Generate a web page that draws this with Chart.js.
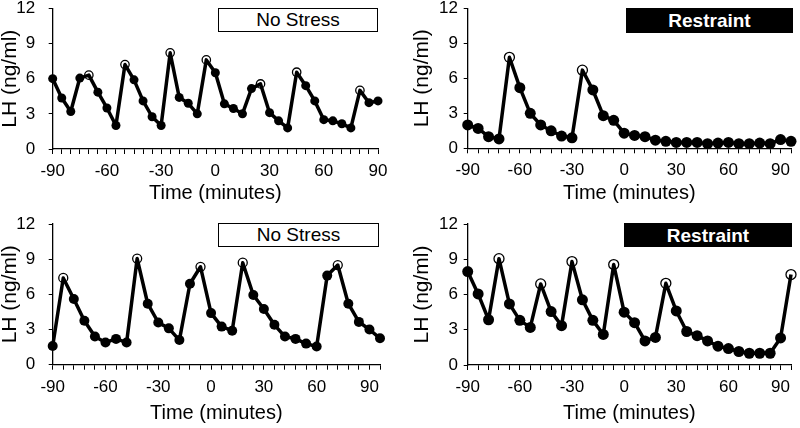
<!DOCTYPE html>
<html>
<head>
<meta charset="utf-8">
<script src="https://cdn.jsdelivr.net/npm/chart.js@4/dist/chart.umd.min.js"></script>
<style>
  html, body { margin: 0; padding: 0; background: #fff; }
  #wrap { position: relative; width: 800px; height: 428px; font-family: "Liberation Sans", Arial, sans-serif; }
  .panel { position: absolute; width: 400px; height: 214px; }
  .tag { position: absolute; box-sizing: border-box; text-align: center; font-size: 19px; line-height: 21px; }
  .tag.open { border: 1.5px solid #000; background: #fff; color: #000; }
  .tag.dark { background: #000; color: #fff; font-weight: bold; line-height: 25px; }
</style>
</head>
<body>
<div id="wrap">
  <div class="panel" style="left:0;top:0"><canvas id="c1" width="400" height="214"></canvas></div>
  <div class="panel" style="left:400px;top:0"><canvas id="c2" width="400" height="214"></canvas></div>
  <div class="panel" style="left:0;top:214px"><canvas id="c3" width="400" height="214"></canvas></div>
  <div class="panel" style="left:400px;top:214px"><canvas id="c4" width="400" height="214"></canvas></div>
  <div class="tag open" style="left:218px;top:8px;width:160px;height:24px">No Stress</div>
  <div class="tag dark" style="left:626px;top:8px;width:167px;height:25px">Restraint</div>
  <div class="tag open" style="left:218px;top:223px;width:161px;height:24px">No Stress</div>
  <div class="tag dark" style="left:624px;top:223px;width:168px;height:24px">Restraint</div>
</div>
<script>
// Temps (minutes) et LH (ng/ml) pour chaque panneau
const timeEvery5 = [-90, -85, -80, -75, -70, -65, -60, -55, -50, -45, -40, -35, -30, -25, -20, -15, -10, -5,
    0, 5, 10, 15, 20, 25, 30, 35, 40, 45, 50, 55, 60, 65, 70, 75, 80, 85, 90];
const timeEvery6 = [-90, -84, -78, -72, -66, -60, -54, -48, -42, -36, -30, -24, -18, -12, -6,
    0, 6, 12, 18, 24, 30, 36, 42, 48, 54, 60, 66, 72, 78, 84, 90, 96];

const lhNoStressTop = [6.0, 4.35, 3.2, 6.05, 6.3, 4.85, 3.5, 2.0, 7.2, 5.9, 4.1, 2.75, 2.0, 8.2, 4.4, 3.9, 3.0, 7.6,
    6.5, 3.85, 3.45, 3.0, 5.15, 5.55, 3.1, 2.4, 1.8, 6.55, 5.4, 4.1, 2.5, 2.4, 2.15, 1.8, 5.0, 3.95, 4.1];
const lhRestraintTop = [2.0, 1.7, 1.0, 0.8, 7.8, 5.2, 3.0, 2.0, 1.5, 1.05, 0.9, 6.7, 5.0, 2.8, 2.4,
    1.3, 1.1, 1.0, 0.7, 0.6, 0.5, 0.5, 0.5, 0.4, 0.45, 0.5, 0.4, 0.4, 0.45, 0.4, 0.75, 0.6];
const lhNoStressBottom = [1.6, 7.4, 5.6, 3.75, 2.4, 1.9, 2.2, 1.9, 9.05, 5.2, 3.6, 3.1, 2.1, 6.9, 8.35,
    4.4, 3.25, 2.9, 8.7, 5.95, 4.75, 3.4, 2.4, 2.2, 1.8, 1.55, 7.6, 8.5, 5.2, 3.65, 3.0, 2.25];
const lhRestraintBottom = [7.95, 6.05, 3.85, 9.05, 5.2, 3.8, 3.2, 6.9, 4.55, 3.35, 8.8, 5.55, 3.8, 2.6, 8.55,
    4.5, 3.6, 2.05, 2.35, 6.95, 4.6, 2.85, 2.5, 2.05, 1.6, 1.4, 1.15, 1.0, 1.0, 1.0, 2.3, 7.7];

// Pics (cercles ouverts)
const peaksNoStressTop = [-70, -50, -25, -5, 25, 45, 80];
const peaksRestraintTop = [-66, -24];
const peaksNoStressBottom = [-84, -42, -6, 18, 72];
const peaksRestraintBottom = [-72, -48, -30, -6, 24, 96];

const yTicks = [0, 3, 6, 9, 12];
const xLabels = [-90, -60, -30, 0, 30, 60, 90];

const FONT = '"Liberation Sans", Arial, sans-serif';

function makePanel(id, times, values, peaks, cfg) {
    const pts = times.map((t, i) => ({ x: t, y: values[i] }));
    const isPeak = (ctx) => peaks.includes(times[ctx.dataIndex]);

    new Chart(document.getElementById(id), {
        type: 'line',
        data: {
            datasets: [
                {
                    // ligne au-dessus des points
                    data: pts,
                    borderColor: '#000',
                    borderWidth: 3.5,
                    borderJoinStyle: 'round',
                    tension: 0,
                    pointRadius: 0,
                    clip: false,
                    order: 1
                },
                {
                    data: pts,
                    showLine: false,
                    pointRadius: (ctx) => isPeak(ctx) ? cfg.peakRadius : cfg.radius,
                    pointBackgroundColor: (ctx) => isPeak(ctx) ? '#fff' : '#000',
                    pointBorderColor: '#000',
                    pointBorderWidth: (ctx) => isPeak(ctx) ? 1.3 : 0,
                    clip: false,
                    order: 2
                }
            ]
        },
        options: {
            responsive: false,
            animation: false,
            layout: {
                padding: { left: cfg.padLeft, top: cfg.top, right: 400 - cfg.right, bottom: cfg.padBottom }
            },
            plugins: { legend: { display: false }, tooltip: { enabled: false } },
            scales: {
                x: {
                    type: 'linear',
                    min: -90,
                    max: cfg.xMax,
                    afterFit: (s) => { s.height = cfg.xHeight; },
                    ticks: {
                        stepSize: cfg.step,
                        autoSkip: false,
                        maxRotation: 0,
                        padding: 9,
                        color: '#000',
                        font: { family: FONT, size: 17, lineHeight: 1 },
                        callback: (v) => xLabels.includes(v) ? String(v) : ''
                    },
                    grid: { drawOnChartArea: false, drawTicks: true, tickLength: 5, color: '#000', tickWidth: 1 },
                    border: { display: true, color: '#000', width: 1.3 },
                    title: {
                        display: true,
                        text: 'Time (minutes)',
                        color: '#000',
                        padding: 0,
                        font: { family: FONT, size: 20, lineHeight: 1 }
                    }
                },
                y: {
                    min: 0,
                    max: 12,
                    afterFit: (s) => {
                        s.width = cfg.yWidth;
                        // pas de marge supplémentaire en haut/bas pour les labels
                        s.paddingTop = 0;
                        s.paddingBottom = 0;
                    },
                    afterBuildTicks: (s) => { s.ticks = yTicks.map(v => ({ value: v })); },
                    ticks: {
                        padding: cfg.yPad,
                        color: '#000',
                        font: { family: FONT, size: 17, lineHeight: 1 }
                    },
                    grid: { drawOnChartArea: false, drawTicks: true, tickLength: 4, color: '#000', tickWidth: 1 },
                    border: { display: true, color: '#000', width: 1.3 },
                    title: {
                        display: true,
                        text: 'LH (ng/ml)',
                        color: '#000',
                        padding: 0,
                        font: { family: FONT, size: 21, lineHeight: 1 }
                    }
                }
            }
        }
    });
}

makePanel('c1', timeEvery5, lhNoStressTop, peaksNoStressTop, {
    xMax: 90, step: 5, radius: 4.5, peakRadius: 4.2,
    padLeft: 0, yWidth: 52.7, yPad: 13.5, top: 8.3, right: 378, xHeight: 54.5, padBottom: 10.5
});
makePanel('c2', timeEvery6, lhRestraintTop, peaksRestraintTop, {
    xMax: 96, step: 6, radius: 5.5, peakRadius: 5,
    padLeft: 12, yWidth: 55.7, yPad: 5.7, top: 8.3, right: 393.3, xHeight: 55.2, padBottom: 10.5
});
makePanel('c3', timeEvery6, lhNoStressBottom, peaksNoStressBottom, {
    xMax: 96, step: 6, radius: 5, peakRadius: 4.5,
    padLeft: 0, yWidth: 52.7, yPad: 13.5, top: 10, right: 380, xHeight: 58.8, padBottom: 4.5
});
makePanel('c4', timeEvery6, lhRestraintBottom, peaksRestraintBottom, {
    xMax: 96, step: 6, radius: 5.5, peakRadius: 5,
    padLeft: 12, yWidth: 55.7, yPad: 5.7, top: 10, right: 393.3, xHeight: 58.5, padBottom: 4.5
});
</script>
</body>
</html>
